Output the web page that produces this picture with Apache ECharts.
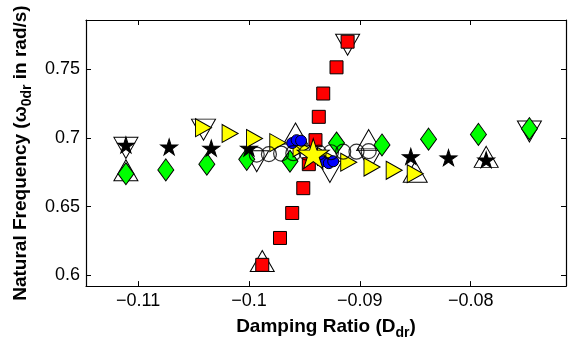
<!DOCTYPE html>
<html>
<head>
<meta charset="utf-8">
<script src="https://cdn.jsdelivr.net/npm/echarts@6/dist/echarts.min.js"></script>
<style>
  html, body { margin: 0; padding: 0; background: #fff; }
  #chart { width: 568px; height: 345px; }
</style>
</head>
<body>
<div id="chart"></div>
<script>
// axis ticks
const xTicks = [-0.11, -0.1, -0.09, -0.08];
const yTicks = [0.6, 0.65, 0.7, 0.75];

// marker data [damping ratio, natural frequency]
const redSquares = [[-0.0988, 0.6075], [-0.0972, 0.6271], [-0.0961, 0.6453], [-0.0951, 0.6634], [-0.0946, 0.6809],
  [-0.0940, 0.6984], [-0.0937, 0.7154], [-0.0933, 0.7324], [-0.0921, 0.7515], [-0.0911, 0.7702]];
const greenDiamonds = [[-0.1111, 0.6739], [-0.1075, 0.6767], [-0.1038, 0.6809], [-0.1002, 0.6844], [-0.0963, 0.6830],
  [-0.0921, 0.6963], [-0.0880, 0.6949], [-0.0838, 0.6991], [-0.0793, 0.7026], [-0.0747, 0.7068]];
const blackStars = [[-0.1111, 0.6949], [-0.1072, 0.6935], [-0.1034, 0.6926], [-0.1000, 0.6926],
  [-0.0854, 0.6865], [-0.0820, 0.6856], [-0.0786, 0.6841]];
const yellowTriangles = [[-0.1041, 0.7075], [-0.1017, 0.7033], [-0.0995, 0.6996], [-0.0974, 0.6966], [-0.0953, 0.6928],
  [-0.0931, 0.6865], [-0.0910, 0.6823], [-0.0889, 0.6788], [-0.0869, 0.6764], [-0.0850, 0.6739]];
const blueCircles = [[-0.0961, 0.6963], [-0.0957, 0.6984], [-0.0953, 0.6980],
  [-0.0933, 0.6830], [-0.0928, 0.6816], [-0.0924, 0.6830]];
const openCircles = [[-0.0993, 0.6879], [-0.0982, 0.6882], [-0.0971, 0.6886], [-0.0960, 0.6889], [-0.0948, 0.6893],
  [-0.0937, 0.6893], [-0.0926, 0.6896], [-0.0915, 0.6900], [-0.0903, 0.6900], [-0.0892, 0.6904]];
const upTriangles = [[-0.1111, 0.6764], [-0.0988, 0.6103], [-0.0786, 0.6862], [-0.0850, 0.6753],
  [-0.0958, 0.7033], [-0.0892, 0.6984]];
const downTriangles = [[-0.1111, 0.6928], [-0.1041, 0.7061], [-0.0911, 0.7679], [-0.0747, 0.7047],
  [-0.0927, 0.6753], [-0.0993, 0.6830], [-0.0891, 0.6844]];
const bigStar = [[-0.0942, 0.6886]];

const starPath = "path://M50,0L61,35L98,35L68,57L79,91L50,70L21,91L32,57L2,35L39,35Z";
const rightTri = "path://M0,0L1,0.5L0,1Z";
const upTri = "path://M1,0L2,1.75L0,1.75Z";
const downTri = "path://M0,0L2,0L1,1.75Z";

const fmt = v => String(+(+v).toFixed(3)).replace("-", "\u2212");
const font = "Liberation Sans, Arial, Helvetica, sans-serif";

function scatter(data, symbol, size, color, z) {
  return {
    type: "scatter",
    data: data,
    symbol: symbol,
    symbolSize: size,
    z: z,
    silent: true,
    itemStyle: { color: color, borderColor: "#000", borderWidth: 1, opacity: 1 },
  };
}

const nameRich = {
  a: { fontFamily: font, fontSize: 19, fontWeight: "bold", color: "#000", lineHeight: 26, verticalAlign: "middle" },
  s: { fontFamily: font, fontSize: 14, fontWeight: "bold", color: "#000", lineHeight: 26, verticalAlign: "bottom", padding: [11, 0, 0, 0] },
};

const chart = echarts.init(document.getElementById("chart"));
chart.setOption({
  animation: false,
  grid: { left: 86, right: 2, top: 20, bottom: 48 },
  xAxis: [
    {
      type: "value",
      min: -0.1147,
      max: -0.0714,
      name: "{a|Damping Ratio (D}{s|dr}{a|)}",
      nameLocation: "middle",
      nameGap: 22,
      nameTextStyle: { rich: nameRich },
      axisLine: { lineStyle: { color: "#000", width: 1.2 } },
      axisTick: { inside: true, length: 5, customValues: xTicks, lineStyle: { color: "#000" } },
      axisLabel: { customValues: xTicks, formatter: fmt, fontFamily: font, fontSize: 18, color: "#000", margin: 6 },
      splitLine: { show: false },
    },
    {
      type: "value",
      position: "top",
      min: -0.1147,
      max: -0.0714,
      axisLine: { lineStyle: { color: "#000", width: 1.2 } },
      axisTick: { inside: true, length: 5, customValues: xTicks, lineStyle: { color: "#000" } },
      axisLabel: { show: false },
      splitLine: { show: false },
    },
  ],
  yAxis: [
    {
      type: "value",
      min: 0.592,
      max: 0.786,
      name: "{a|Natural Frequency (\u03c9}{s|0dr}{a| in rad/s)}",
      nameLocation: "middle",
      nameRotate: 90,
      nameGap: 52,
      nameTextStyle: { rich: nameRich },
      axisLine: { show: true, lineStyle: { color: "#000", width: 1.2 } },
      axisTick: { show: true, inside: true, length: 5, customValues: yTicks, lineStyle: { color: "#000" } },
      axisLabel: { customValues: yTicks, formatter: fmt, fontFamily: font, fontSize: 18, color: "#000", margin: 6 },
      splitLine: { show: false },
    },
    {
      type: "value",
      position: "right",
      min: 0.592,
      max: 0.786,
      axisLine: { show: true, lineStyle: { color: "#000", width: 1.2 } },
      axisTick: { show: true, inside: true, length: 5, customValues: yTicks, lineStyle: { color: "#000" } },
      axisLabel: { show: false },
      splitLine: { show: false },
    },
  ],
  series: [
    scatter(upTriangles, upTri, [24, 21], "rgba(255,255,255,0)", 2),
    scatter(downTriangles, downTri, [24, 21], "rgba(255,255,255,0)", 2),
    scatter(redSquares, "rect", 13, "#ff0000", 3),
    scatter(greenDiamonds, "diamond", [16, 22], "#00ff00", 3),
    scatter(blackStars, starPath, [17, 16], "#000", 3),
    scatter(yellowTriangles, rightTri, [16, 18], "#ffff00", 4),
    scatter(blueCircles, "circle", 11, "#0000ff", 4),
    Object.assign(scatter(openCircles, "circle", 15, "rgba(0,0,0,0)", 5), {
      itemStyle: { color: "rgba(0,0,0,0)", borderColor: "#000", borderWidth: 1.2 },
    }),
    scatter(bigStar, starPath, [32, 30], "#ffff00", 6),
  ],
});
</script>
</body>
</html>
